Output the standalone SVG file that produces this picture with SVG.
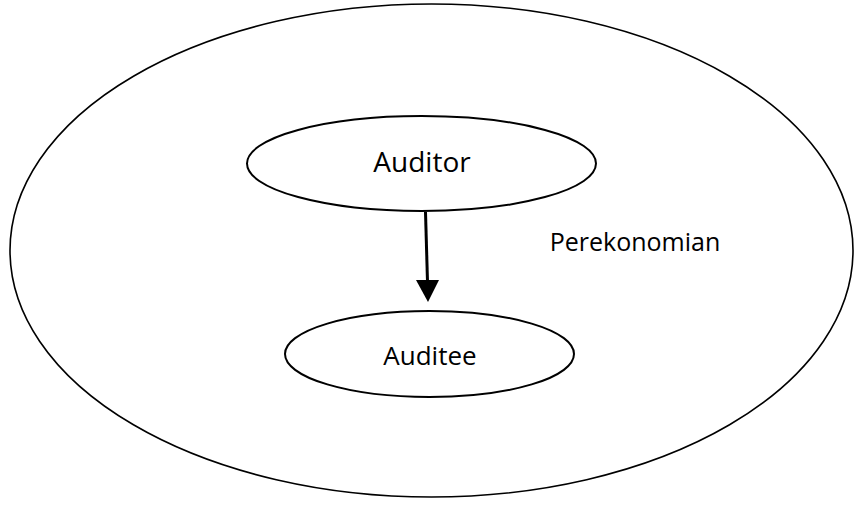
<svg xmlns="http://www.w3.org/2000/svg" width="855" height="506" viewBox="0 0 855 506">
  <style>
    .shape { fill: none; stroke: #000; }
    .label { font-family: "Open Sans", "Liberation Sans", sans-serif; fill: #000; text-anchor: middle; }
  </style>
  <rect width="855" height="506" fill="#fff"/>

  <!-- outer context: the economy -->
  <g id="perekonomian">
    <ellipse class="shape" cx="431.5" cy="250.5" rx="421.5" ry="246.5" stroke-width="1.6"/>
    <text class="label" x="635" y="251" font-size="25">Perekonomian</text>
  </g>

  <g id="auditor">
    <ellipse class="shape" cx="421.5" cy="163.5" rx="174.5" ry="47.5" stroke-width="2"/>
    <text class="label" x="422" y="172" font-size="28">Auditor</text>
  </g>

  <g id="auditee">
    <ellipse class="shape" cx="429.5" cy="354" rx="144.5" ry="43" stroke-width="2"/>
    <text class="label" x="430" y="365" font-size="26">Auditee</text>
  </g>

  <g id="connectors">
    <line x1="425.5" y1="212" x2="427.5" y2="282" stroke="#000" stroke-width="3"/>
    <polygon points="416,280 439,280 428,302" fill="#000"/>
  </g>
</svg>
